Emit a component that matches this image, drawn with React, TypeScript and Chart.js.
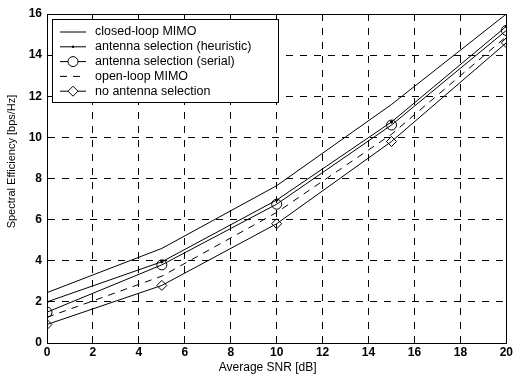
import React, { useEffect, useRef } from "react";
import { Chart, registerables } from "chart.js";

Chart.register(...registerables);

const snr = [0, 5, 10, 15, 20];
const closedLoop = [2.45, 4.6, 7.65, 11.6, 16.0];
const heuristic = [2.0, 3.95, 6.95, 10.75, 15.4];
const serial = [1.5, 3.8, 6.75, 10.6, 15.2];
const openLoop = [1.25, 3.25, 6.35, 10.15, 14.9];
const noSelection = [0.9, 2.8, 5.8, 9.8, 14.6];

const labels = [
  "closed-loop MIMO",
  "antenna selection (heuristic)",
  "antenna selection (serial)",
  "open-loop MIMO",
  "no antenna selection",
];
const xTitle = "Average SNR [dB]";
const yTitle = "Spectral Efficiency [bps/Hz]";

const FONT = "'Liberation Sans', Arial, sans-serif";

const titlesPlugin = {
  id: "axisTitles",
  afterDraw(chart: any) {
    const ctx = chart.ctx;
    const a = chart.chartArea;
    ctx.save();
    ctx.fillStyle = "#000";
    ctx.textAlign = "center";
    ctx.textBaseline = "middle";
    ctx.font = `12px ${FONT}`;
    ctx.fillText(xTitle, (a.left + a.right) / 2 - 9, 368);
    ctx.translate(12, (a.top + a.bottom) / 2 - 17);
    ctx.rotate(-Math.PI / 2);
    ctx.font = `11px ${FONT}`;
    ctx.fillText(yTitle, 0, 0);
    ctx.restore();
  },
};

const legendPlugin = {
  id: "boxLegend",
  afterDraw(chart: any) {
    const ctx = chart.ctx;
    const area = chart.chartArea;
    const x0 = area.left + 5;
    const y0 = area.top + 5;
    const w = 226;
    const h = 83;
    ctx.save();
    ctx.fillStyle = "#fff";
    ctx.fillRect(x0, y0, w, h);
    ctx.strokeStyle = "#000";
    ctx.lineWidth = 1;
    ctx.setLineDash([]);
    ctx.strokeRect(x0 + 0.5, y0 + 0.5, w, h);
    ctx.font = `12.5px ${FONT}`;
    ctx.textBaseline = "middle";
    chart.data.datasets.forEach((ds: any, i: number) => {
      const y = y0 + 13 + i * 14.8;
      const lx0 = x0 + 8;
      const lx1 = x0 + 34;
      ctx.strokeStyle = "#000";
      ctx.lineWidth = 1;
      ctx.setLineDash(ds.borderDash || []);
      ctx.beginPath();
      ctx.moveTo(lx0, y);
      ctx.lineTo(lx1, y);
      ctx.stroke();
      ctx.setLineDash([]);
      const mx = (lx0 + lx1) / 2;
      if (ds.pointStyle === "circle" && ds.pointRadius > 2) {
        ctx.fillStyle = "#fff";
        ctx.beginPath();
        ctx.arc(mx, y, 5, 0, Math.PI * 2);
        ctx.fill();
        ctx.stroke();
      } else if (ds.pointStyle === "rectRot") {
        ctx.fillStyle = "#fff";
        ctx.beginPath();
        ctx.moveTo(mx, y - 5);
        ctx.lineTo(mx + 5, y);
        ctx.lineTo(mx, y + 5);
        ctx.lineTo(mx - 5, y);
        ctx.closePath();
        ctx.fill();
        ctx.stroke();
      } else if (ds.pointStyle === "circle" && ds.pointRadius > 0) {
        ctx.fillStyle = "#000";
        ctx.beginPath();
        ctx.arc(mx, y, 1.2, 0, Math.PI * 2);
        ctx.fill();
      }
      ctx.fillStyle = "#000";
      ctx.fillText(ds.label, x0 + 43, y);
    });
    ctx.restore();
  },
};

export default function App() {
  const ref = useRef<HTMLCanvasElement>(null);
  useEffect(() => {
    if (!ref.current) return;
    const mk = (i: number, data: number[], extra: any) => ({
      label: labels[i],
      data: snr.map((x, k) => ({ x, y: data[k] })),
      borderColor: "#000",
      backgroundColor: "#fff",
      borderWidth: 1,
      pointBorderColor: "#000",
      pointBorderWidth: 1,
      pointRadius: 0,
      tension: 0,
      ...extra,
    });
    const chart = new Chart(ref.current, {
      type: "line",
      data: {
        datasets: [
          mk(0, closedLoop, {}),
          mk(1, heuristic, { pointStyle: "circle", pointRadius: 1.2, pointBackgroundColor: "#000" }),
          mk(2, serial, { pointStyle: "circle", pointRadius: 5, pointBackgroundColor: "rgba(255,255,255,0)" }),
          mk(3, openLoop, { borderDash: [7, 6] }),
          mk(4, noSelection, { pointStyle: "rectRot", pointRadius: 5, pointBackgroundColor: "rgba(255,255,255,0)" }),
        ],
      },
      options: {
        animation: false,
        responsive: false,
        layout: { padding: { top: 14, right: 7, left: 0, bottom: 0 } },
        plugins: { legend: { display: false }, tooltip: { enabled: false } },
        scales: {
          x: {
            type: "linear",
            min: 0,
            max: 20,
            ticks: { stepSize: 2, color: "#000", font: { family: FONT, size: 12, weight: "bold" }, padding: 2 },
            grid: { color: "#000", lineWidth: 1, drawTicks: false },
            border: { color: "#000", width: 1, dash: [7, 7] } as any,
            title: { display: false },
            afterFit: (s: any) => { s.height = 33; },
          },
          y: {
            min: 0,
            max: 16,
            ticks: { stepSize: 2, color: "#000", font: { family: FONT, size: 12, weight: "bold" }, padding: 5 },
            grid: { color: "#000", lineWidth: 1, drawTicks: false },
            border: { color: "#000", width: 1, dash: [7, 7] } as any,
            title: { display: false },
            afterFit: (s: any) => { s.width = 47; },
          },
        },
      },
      plugins: [
        {
          id: "frame",
          beforeDatasetsDraw(chart: any) {
            const { ctx, chartArea: a } = chart;
            ctx.save();
            ctx.strokeStyle = "#000";
            ctx.lineWidth = 1;
            ctx.setLineDash([]);
            ctx.strokeRect(Math.round(a.left) + 0.5, Math.round(a.top) + 0.5, Math.round(a.right - a.left), Math.round(a.bottom - a.top));
            ctx.restore();
          },
        },
        legendPlugin,
        titlesPlugin,
      ],
    } as any);
    return () => chart.destroy();
  }, []);
  return (
    <div style={{ position: "fixed", left: 0, top: 0, width: 515, height: 376, background: "#fff" }}>
      <canvas ref={ref} width={515} height={376} style={{ width: 515, height: 376 }} />
    </div>
  );
}
